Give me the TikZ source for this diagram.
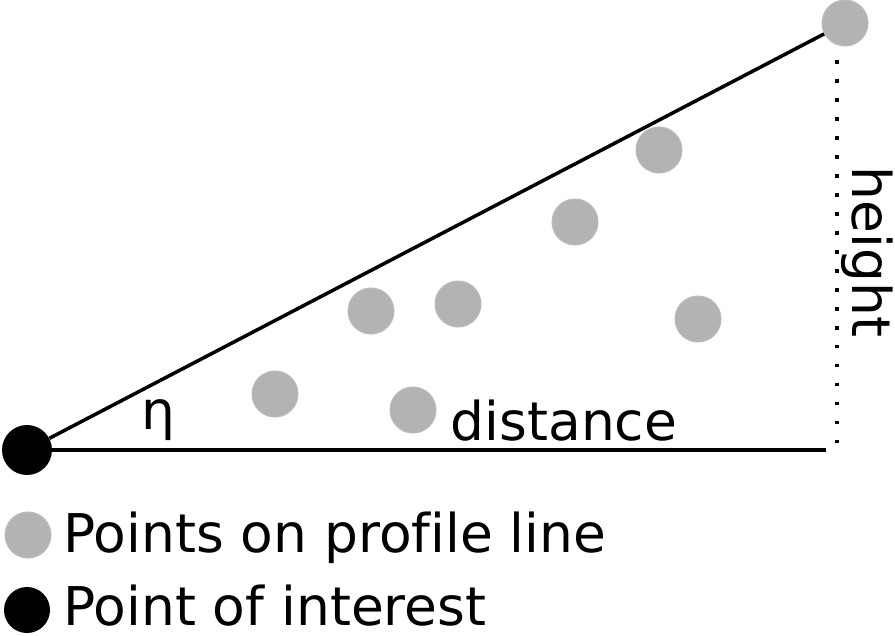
\documentclass[tikz,border=0pt]{standalone}
\usepackage{fontspec}
\setmainfont[Ligatures=NoCommon]{DejaVu Sans}
\definecolor{ptgray}{HTML}{B3B3B3}
\definecolor{ptedge}{HTML}{BCBCBC}
\begin{document}
\begin{tikzpicture}[x=0.02cm,y=-0.02cm,
  graypt/.style={circle,fill=ptgray,draw=ptedge,line width=0.6pt,minimum size=0.92cm,inner sep=0pt},
  blackpt/.style={circle,fill=black,minimum size=1.0cm,inner sep=0pt},
  legpt/.style={circle,fill=black,minimum size=0.92cm,inner sep=0pt},
  lbl/.style={font=\fontsize{30.4pt}{36pt}\selectfont,inner sep=0pt},
  mainline/.style={line width=2pt}]
\useasboundingbox (0,0) rectangle (895,635);
% points
\node[blackpt] (poi) at (27,450) {};
\node[graypt] (top) at (845,23) {};
\node[graypt] (p1) at (275,394) {};
\node[graypt] (p2) at (371,311) {};
\node[graypt] (p3) at (458,304) {};
\node[graypt] (p4) at (575,222) {};
\node[graypt] (p5) at (659,150) {};
\node[graypt] (p6) at (413,410) {};
\node[graypt] (p7) at (698,319) {};
% lines
\coordinate (baseend) at (826,450);
\coordinate (dtop) at (837,60);
\coordinate (dbot) at (837,445);
\draw[mainline] (poi) -- (top);
\draw[mainline] (poi.center) -- (baseend);
\draw[line width=2.2pt,dash pattern=on 2.2pt off 8.6pt] (dtop) -- (dbot);
% labels
\node[lbl,anchor=base] (eta) at (158,429) {η};
\node[lbl,anchor=base] (dist) at (564,440) {distance};
\node[lbl,anchor=base,rotate=-90] (height) at (852,252) {height};
% legend
\node[graypt] (lg1) at (28,535) {};
\node[legpt] (lg2) at (27,610) {};
\node[lbl,anchor=base west] (lt1) at (63,552) {Points on profile line};
\node[lbl,anchor=base west] (lt2) at (63,625) {Point of interest};
\end{tikzpicture}
\end{document}
